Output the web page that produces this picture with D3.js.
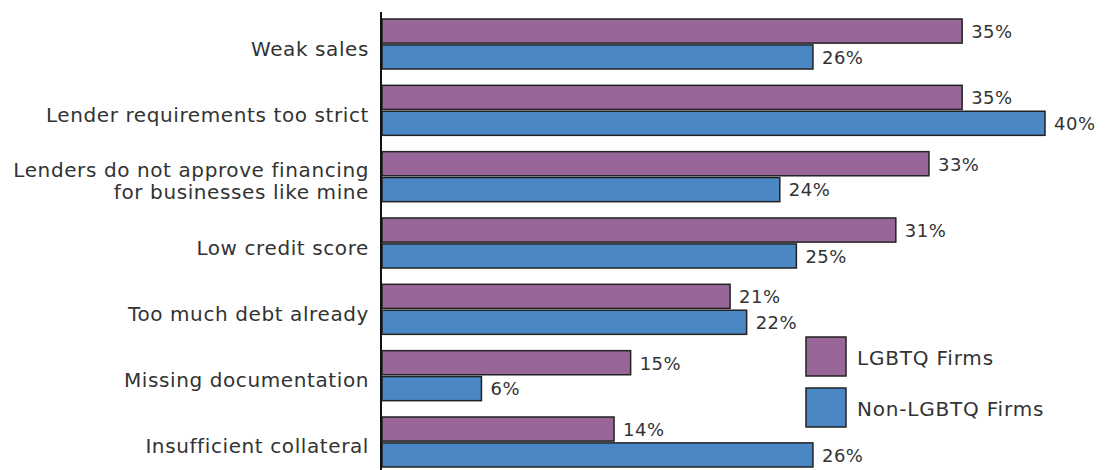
<!DOCTYPE html>
<html><head><meta charset="utf-8">
<script src="https://cdn.jsdelivr.net/npm/d3@7"></script>
<style>
body{margin:0;background:#fff;}
text{font-family:"DejaVu Sans",sans-serif;fill:#333;}
</style></head>
<body><svg id="c" width="1112" height="470"></svg>
<script>
const categories = [
  ["Weak sales"],
  ["Lender requirements too strict"],
  ["Lenders do not approve financing","for businesses like mine"],
  ["Low credit score"],
  ["Too much debt already"],
  ["Missing documentation"],
  ["Insufficient collateral"]
];
const seriesNames = ["LGBTQ Firms","Non-LGBTQ Firms"];
const lgbtq = [35,35,33,31,21,15,14];
const nonLgbtq = [26,40,24,25,22,6,26];
const colors = ["#996699","#4b87c5"];

const svg = d3.select("#c");
const keys = categories.map((c,i)=>i);
const x = d3.scaleLinear().domain([0,40]).range([382,1045]);
const y = d3.scaleBand().domain(keys).range([19,467]).paddingInner(0.246).paddingOuter(0);
const ySub = d3.scaleBand().domain([0,1]).range([0,y.bandwidth()]).paddingInner(0.07);
const values = [lgbtq, nonLgbtq];

const g = svg.append("g");
keys.forEach(i=>{
  [0,1].forEach(s=>{
    const v = values[s][i];
    const y0 = y(i)+ySub(s);
    g.append("rect").attr("x",x(0)).attr("y",y0)
      .attr("width",x(v)-x(0)).attr("height",ySub.bandwidth())
      .attr("fill",colors[s]).attr("stroke","#222").attr("stroke-width",1.5);
    g.append("text").attr("x",x(v)+9).attr("y",y0+ySub.bandwidth()/2+0.5)
      .attr("dy","0.35em").attr("font-size",18).attr("letter-spacing",0.5).text(v+"%");
  });
  const lines = categories[i];
  const cy = y(i)+y.bandwidth()/2+4.5;
  lines.forEach((t,k)=>{
    g.append("text").attr("x",369).attr("y",cy+(k-(lines.length-1)/2)*22)
      .attr("dy","0.35em").attr("text-anchor","end").attr("font-size",20)
      .attr("letter-spacing",0.6).text(t);
  });
});

svg.append("line").attr("x1",381).attr("x2",381).attr("y1",12).attr("y2",470)
  .attr("stroke","#111").attr("stroke-width",2);

const leg = svg.append("g");
seriesNames.forEach((n,s)=>{
  const ly = 337 + s*51;
  leg.append("rect").attr("x",806).attr("y",ly).attr("width",40).attr("height",39)
    .attr("fill",colors[s]).attr("stroke","#222").attr("stroke-width",1.5);
  leg.append("text").attr("x",857).attr("y",ly+20.5).attr("dy","0.35em")
    .attr("font-size",20).attr("letter-spacing",0.8).text(n);
});
</script></body></html>
